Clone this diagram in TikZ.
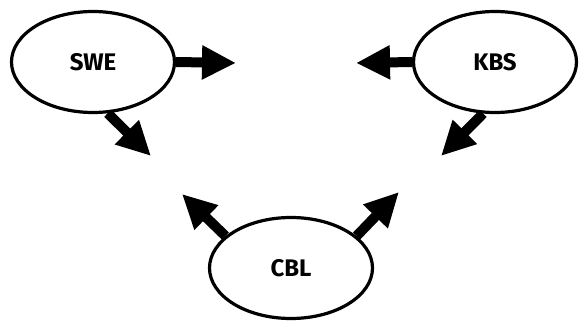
\documentclass[tikz,border=0pt]{standalone}
\usepackage{fontspec}
\setmainfont{Fira Sans}
\usepackage{tikz}
\usetikzlibrary{shapes.geometric,arrows.meta,calc,positioning}

\begin{document}
\begin{tikzpicture}[x=1pt, y=-1pt]
	\tikzstyle{every node} = [ellipse, draw = black, line width = 3.2pt, minimum width = 163pt, minimum height = 101pt, font = \fontsize{24}{24}\selectfont\bfseries]
	\tikzstyle{fat arrow} = [line width = 10pt, -{Triangle[length = 34pt, width = 32pt]}]
	\useasboundingbox (0, 0) rectangle (584, 323);
\node (swe) at (93, 62) {SWE};
\node (kbs) at (495, 62) {KBS};
\node (cbl) at (291, 268) {CBL};
\coordinate (sweR) at (236, 63);
\coordinate (sweD) at (151, 156);
\coordinate (kbsL) at (356, 63);
\coordinate (kbsD) at (441, 156);
\coordinate (cblL) at (182, 194);
\coordinate (cblR) at (399, 192);
	\path[draw, fat arrow] (swe.east) -- (sweR);
	\path[draw, fat arrow] (swe.-74) -- (sweD);
	\path[draw, fat arrow] (kbs.west) -- (kbsL);
	\path[draw, fat arrow] (kbs.-103) -- (kbsD);
	\path[draw, fat arrow] (cbl.154) -- (cblL);
	\path[draw, fat arrow] (cbl.26) -- (cblR);
	\end{tikzpicture}
\end{document}
